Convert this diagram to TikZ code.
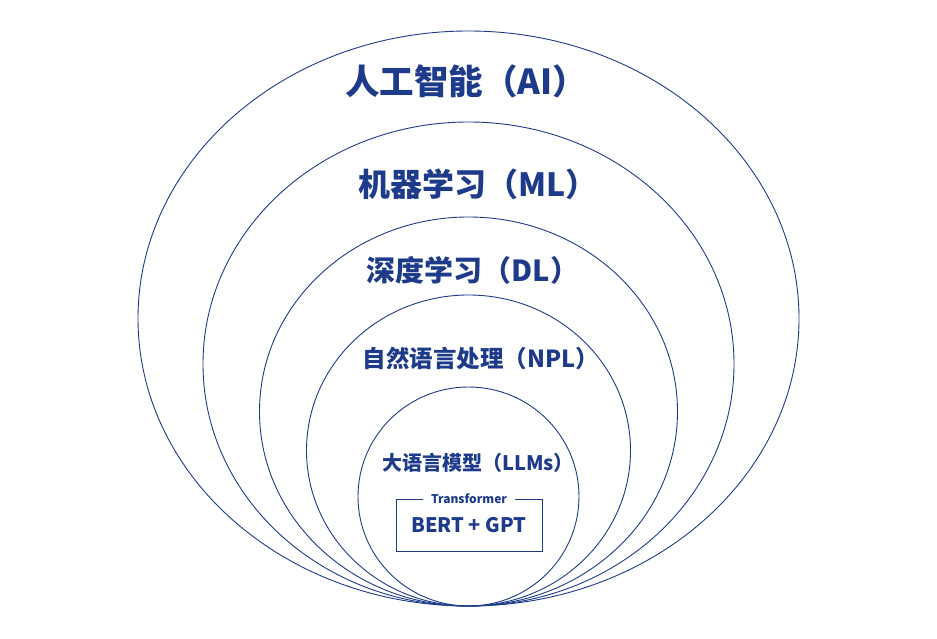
\documentclass[tikz,border=0pt]{standalone}
\usepackage{fontspec}
\setmainfont{Noto Sans CJK SC}
\usepackage{tikz}
\definecolor{aiblue}{HTML}{1E3A8A}

\begin{document}
\begin{tikzpicture}[x=1pt,y=-1pt,
  layer/.style={text=aiblue,font=\bfseries\fontsize{#1}{#1}\selectfont}]
\useasboundingbox (0,0) rectangle (937,639);
\foreach \cy/\rx/\ry in
  {318.5/330.5/287.5, 364/265.5/242, 411.5/209/194.5, 450.5/162/155.5, 496.5/110.5/109.5}
  \draw[aiblue, line width=0.9pt] (468.5,\cy) ellipse ({\rx pt} and {\ry pt});%下で接する楕円
\node[layer=34.5] (ai) at (466,81) {人工智能（AI）};
\node[layer=32] (ml) at (478,184) {机器学习（ML）};
\node[layer=29] (dl) at (473,270) {深度学习（DL）};
\node[layer=23.5] (nlp) at (481,359) {自然语言处理（NPL）};
\node[layer=20] (llm) at (478,463) {大语言模型（LLMs）};
\node[draw=aiblue, line width=1pt, minimum width=146pt, minimum height=52pt,
  layer=20] (bert) at (469,525) {BERT + GPT};%枠
\node[fill=white, inner xsep=8pt, inner ysep=1pt, layer=12] (tf) at (bert.north) {Transformer};
\end{tikzpicture}
\end{document}
